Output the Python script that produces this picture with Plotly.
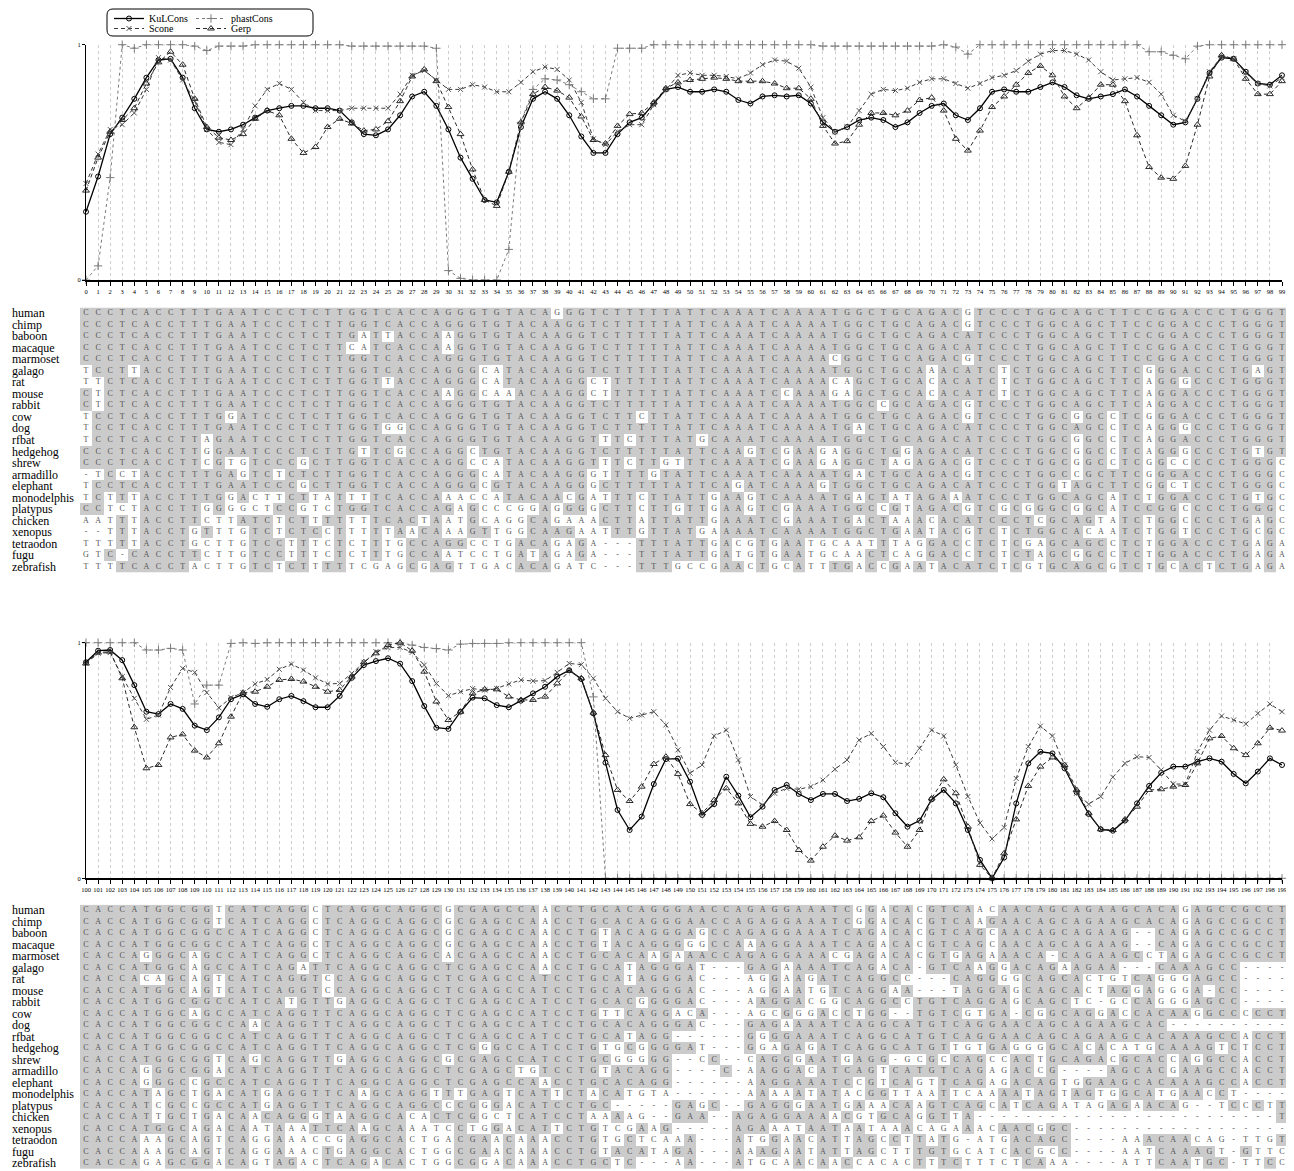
import plotly.graph_objects as go
from collections import Counter

W, H = 1294, 1171
OFF = 8                      # default page (body) margin of the html page
FW, FH = W - OFF, H - OFF    # figure size so that it ends at the window edge
SERIF = "Liberation Serif, DejaVu Serif, serif"

# ---------------- data ----------------
species = ["human", "chimp", "baboon", "macaque", "marmoset", "galago", "rat", "mouse",
           "rabbit", "cow", "dog", "rfbat", "hedgehog", "shrew", "armadillo", "elephant",
           "monodelphis", "platypus", "chicken", "xenopus", "tetraodon", "fugu", "zebrafish"]

positions_1 = list(range(0, 100))
positions_2 = list(range(100, 200))
tick_labels_1 = [str(p) for p in positions_1]
tick_labels_2 = [str(p) for p in positions_2]

seqs_1 = [
    "CCCTCACCTTTGAATCCCTCTTGGTCACCAGGG" "TGTACAGGGTCTTTTTATTCAAATCAAAATGGCT" "GCAGACGTCCCTGGCAGCTTCCGGACCCTGGGT",
    "CCCTCACCTTTGAATCCCTCTTGGTCACCAGGG" "TGTACAAGGTCTTTTTATTCAAATCAAAATGGCT" "GCAGACGTCCCTGGCAGCTTCCGGACCCTGGGT",
    "CCCTCACCTTTGAATCCCTCTTGATTACCAAGG" "TGTACAAGGTCTTTTTATTCAAATCAAAATGGCT" "GCAGACATCCCTGGCAGCTTCCGGACCCTGGGT",
    "CCCTCACCTTTGAATCCCTCTTCATCACCAAGG" "TGTACAAGGTCTTTTTATTCAAATCAAAATGGCT" "GCAGACATCCCTGGCAGCTTCCGGACCCTGGGT",
    "CCCTCACCTTTGAATCCCTCTTGGTCACCAGGG" "TGTACAAGGTCTTTTTATTCAAATCAAAACGGCT" "GCAGACGTCCCTGGCAGCTTCCGGACCCTGGGT",
    "TCCTTACCTTTGAATCCCTCTTGGTCACCAGGG" "CATACAAGGTCTTTTTATTCAAATCAAAATGGCT" "GCAAACATCTCTGGCAGCTTCGGGACCCTGAGT",
    "TTCTCACCTTTGAATCCCTCTTGGTTACCAGGG" "CATACAAGGCTTTTTTATTCAAATCAAAACAGCT" "GCACACATCTCTGGCAGCTTCAGGGCCCTGGGT",
    "CTCTCACCTTTGAATCCCTCTTGGTCACCAAGG" "CAAACAAGGCTTTTTTATTCAAATCCAAAGAGCT" "GCACACATCTCTGGCAGCTTCAGGACCCTGGGT",
    "CTCTCACCTTTGAATCCCTCTTGGTCACCAGGG" "TGTACAAGGTCTTTTTATTCAAATCAAAATGGCC" "GCAGACGTCCCTGGCAGCTTCAGGACCCTGGGT",
    "TCCTCACCTTTGGATCCCTCTTGGTCACCAGGG" "TGTACAAGGTCTTCTTATTCAAATCAAAATGGCT" "GCAGACGTCCCTGGCGGCCTCGGGACCCTGGGT",
    "TCCTCACCTTTGAATCCCTCTTGGTGGCCAGGG" "TGTACAAGGTCTTTTTATTCAAATCAAAATGACT" "GCAGACATCCCTGGCAGCCTCAGGGCCCTGGGT",
    "TCCTCACCTTAGAATCCCTCTTGGTCACCAGGG" "TGTACAAGGTTTCTTTATGCAAATCAAAATGGCT" "GCAGACATCCCTGGCGGCCTCAGGACCCTGGGT",
    "CCCTCACCTTGGAATCCCTCTTGTTCGCCAGGC" "TGTACAAGGTCTTTTTATTCAAGTCGAAGAGGCT" "GGAGACATCCCTGGCGGCCTCAGGGCCCTGTGT",
    "CCCTCACCTTCGTGTCCCGCTTGGTCACCAGGC" "CATACAAGGTTTCTTGTTTCAAATCGAAGAGGCT" "AGAGACGTCCCTGGCGGCCTCGGCCCCCTGGGC",
    "-TCCTACCTTTGAGTCTCTCTTGGTCACCAGGG" "CATACAAGGGTTTTGTATTCAAATCAAAATGACT" "GCAGACGTCCCTGGCCGCTTCGGGACCCTGGGC",
    "TCCTCACCTTTGAATCCCGCTTGGTCACCAGGG" "CGTACAAGGGCTTTTTATTCAGATCAAAGTGGCT" "GCAGACATCCCTGGTAGCTTCGGCTCCCTGGGC",
    "TCTTTACCTTTGGACTTCTTATTTTCACCAAAC" "CATACAACGATTTCTTATTGAAGTCAAAATGACT" "ATAGAAATCCCTGGCAGCATCTGGACCCTGTGC",
    "CCTCTACCTTGGGGCTCCGTCTGGTCACCAGAG" "CCCGGAGGGGCTTCTTGTTGAAGTCGAAATGGCC" "GTAGACGTCGCGGGCGGCATCCGGCCCCTGGGC",
    "AATTTACCTTCTTATCTCTTTTTTTCACTAATG" "CAGGCAGAAACTTATTATTGAAATCGAAATGACT" "AAACACATCCCTCGCAGTATCTGGCCCCTGAGC",
    "--TTTACCTGTTTGTCTCTCCTTTTTAACAAAG" "TTGGCAAGAATTTGTTATGAAAATCAAAATGGCT" "GAATACGTCTCTGGCACAATCTGGTCCCTGCGC",
    "TTTTTACCTGCTTGTCCTTTCTCTTTGCCAGGC" "CTGACAGAGA---TTTATTGACGTGAATGCAATT" "TAGGACCTCTCGAGCAGCCTCTGGACCCTGAGA",
    "GTC-CACCTTCTTGTCCTTTCTCTTTGCCAATC" "CTGATAGAGA---TTTATTGATGTGAATGCAACT" "CAGGACCTCTCTAGCGGCCTCTGGACCCTGAGA",
    "TTTTCACCTACTTGTCTCTTTTTCGAGCGAGTT" "GACACAGATC---TTTGCCGAACTGCATTTGACC" "GAATACATCTCGTGCAGCGTCTGCACTCTGAGA",
]

seqs_2 = [
    "CACCATGGCGGTCATCAGGCTCAGGCAGGCGCG" "AGCCAACCTGCACAGGGAACCAGAGGAAATCGGA" "CACGTCAACAACAGCAGAAGCACAGAGCCGCCT",
    "CACCATGGCGGTCATCAGGCTCAGGCAGGCGCG" "AGCCAACCTGCACAGGGAACCAGAGGAAATCGGA" "CACGTCAAGAACAGCAGAAGCACAGAGCCGCCT",
    "CACCATGGCGGCCATCAGGCTCAGGCAGGCGCG" "AGCCAACCTGTACAGGGAGCCAGAGGAAATCAGA" "CACGTCAGCAACAGCAGAAG--CAGAGCCGCCT",
    "CACCATGGCGGCCATCAGGCTCAGGCAGGCGCG" "AGCCAACCTGTACAGGGGGCCAAAGGAAATCAGA" "CACGTCAGCAACAGCAGAAG--CAGAGCCGCCT",
    "CACCAGGGCAGCCATCAGGCTCAGGCAGGCACG" "AGCCAACCTGCACAAGAAACCAGAGGAAACGAGA" "CACGTGAGAAACA-CAGAAGCCTAGAGCCGCCT",
    "CACCATGGCAGCCATCAGATTCAGGCAGGCTCG" "AGCCAACCTGCATAGGGAT---GAGAAAATCAGA" "CA-GTCAAGGACAGAAGAA---CAAAGCC----",
    "CACCACAGCAGTCATCAGGTCCAGGCAGGCTCG" "AGCCATCCTGCATAGGGAC---AGGAAGATCAGG" "CC---CAGGGGCAGCACTGTCAGGGAGCC----",
    "CACCATGGCAGTCATCAGGTCCAGGCAGGCTCG" "AGCCATCCTGCACAGGGAC---AGGAATGTCAGG" "AA---TAGGAGCAGCACTAGGAGGGA-CC----",
    "CACCATGGCGGCCATCATGTTGAGGCAGGCTCG" "AGCCATCCTGCACGGGGAC---AAGGACGGCAGG" "CCTGTCAGGAGCAGCTC-GCCAGGGAGCC----",
    "CACCATGGCAGCCATCAGGTTCAGGCAGGCTCG" "AGCCATCCTGTTCAGGACA---AGCGGGACCTGG" "--TGTCGTGA-CGGCAGGACCACAAGGCCCCCT",
    "CACCATGGCGGCCAACAGGTTCAGGCAGGCTCG" "AGCCATCCTGCACAGGGAC---GAGAAAATCAGG" "CATGTCAGGAACAGCAGAAGCAC----------",
    "CACCATGGCGGCCATCAGGTTCAGGCAGGCTCG" "AGCCATCCTGCATAGG------GGGGAAATCAGG" "CATGTCAGGAACAGCAGAAGCACAAAGCCACCT",
    "CACCATGGCGGCCATCAGGTTCAGGCAGGCTCG" "GGCCATCCTGTGCGGGGAT---GGAGAGATCAGG" "CATGTTGTGAGGGGCACACATGCAAAGTCTCCT",
    "CACCATGGCGGTCAGCAGGTTGAGGCAGGCGCG" "AGCCATCCTGCGGGGG--CC--CAGGGAATGAGG" "-GCGCCAGCCACTGCAGACGCACCAGGCCACCT",
    "CACCAGGGCGGACATCAGGTTCAGGCAGGCTCG" "AGCTGTCCTGTACAGG----C-AAGGACATCAGT" "CATGTCAGAGACCG----AGCACGAAGCCACCT",
    "CACCAGGGCCGCCATCAGGTTCAGGCAGGCTCG" "AGCCAACCTGCACAGG------AAGGAAATCCGT" "CAGTTCAGAGACAGTGGAAGCACAAAGCCACCT",
    "CACCATAGCTGACATGAGGTTCAAGCAGGTTTG" "AGTCATTCTACATGTA------AAAAATATACGG" "TTAATTCAAAATAGTAGTGGCATGAACCT----",
    "CACCATCGCCGCCATGAGGTTCAGGCAGGCCCG" "GGACATCCTGC-----GAGC--GAGGGAATGAAA" "CAAGTCAGCATCAGATAGAGAACAG--TCCCTT",
    "CACCATTGCTGACAACAGGGTAAGGCACACTCG" "GCTCATCCTAAAAG--GAA--AGAGGAAAACGTG" "CAGGTTA-------------------------T",
    "CACCATGGCAGACAATAAATTCAAGCAAATCCT" "GGACATTCTGTCGAAG-----AGAAATAATAATA" "AACAGAAACAACGGC------------------",
    "CACCAAAGCAGTCAGGAAACCGAGGCACTGACG" "AACAAACCTGTGCTCAAA---ATGGAACATTAGC" "CTTATG-ATGACAGC----AAACAACAG-TTGT",
    "CACCAAAGCAGTCAGGAAACTGAGGCACTGGCG" "AACAAACCTGTACATAGA---AAAGAATATTAGC" "TTTGTGCATCACGCC----AATCAAAGT-GTTC",
    "CACCAGAGCGGACAGTAGACTCAGACACTGGCG" "GACAAACCTGCTC---AA---ATGCAACAACCAC" "ACTTTCTTTCTCAAA----ATTCAATGC-TTCC",
]

kulcons_1 = [0.29, 0.44, 0.62, 0.69, 0.77, 0.86, 0.935, 0.94, 0.86, 0.73,
             0.64, 0.63, 0.64, 0.66, 0.69, 0.72, 0.73, 0.74, 0.74, 0.73,
             0.73, 0.72, 0.67, 0.62, 0.615, 0.64, 0.70, 0.78, 0.80, 0.74,
             0.64, 0.52, 0.43, 0.34, 0.33, 0.46, 0.65, 0.77, 0.80, 0.77,
             0.70, 0.61, 0.54, 0.54, 0.62, 0.67, 0.69, 0.75, 0.81, 0.82,
             0.80, 0.80, 0.81, 0.80, 0.765, 0.75, 0.78, 0.785, 0.78, 0.785,
             0.75, 0.67, 0.63, 0.65, 0.68, 0.69, 0.68, 0.65, 0.67, 0.71,
             0.74, 0.75, 0.70, 0.68, 0.73, 0.80, 0.81, 0.80, 0.80, 0.82,
             0.84, 0.82, 0.785, 0.77, 0.78, 0.79, 0.81, 0.78, 0.74, 0.70,
             0.66, 0.67, 0.77, 0.88, 0.945, 0.94, 0.885, 0.835, 0.83, 0.87]
scone_1 = [0.41, 0.535, 0.64, 0.66, 0.71, 0.81, 0.945, 0.935, 0.85, 0.76,
           0.64, 0.585, 0.575, 0.64, 0.74, 0.81, 0.835, 0.81, 0.755, 0.72,
           0.72, 0.72, 0.73, 0.73, 0.73, 0.73, 0.79, 0.87, 0.89, 0.85,
           0.81, 0.81, 0.83, 0.82, 0.80, 0.80, 0.84, 0.885, 0.905, 0.895,
           0.85, 0.755, 0.60, 0.575, 0.63, 0.66, 0.66, 0.745, 0.81, 0.87,
           0.88, 0.87, 0.87, 0.865, 0.855, 0.88, 0.915, 0.935, 0.93, 0.90,
           0.82, 0.69, 0.63, 0.65, 0.72, 0.79, 0.81, 0.805, 0.815, 0.84,
           0.855, 0.855, 0.835, 0.815, 0.835, 0.86, 0.87, 0.89, 0.93, 0.96,
           0.975, 0.975, 0.96, 0.935, 0.885, 0.85, 0.855, 0.86, 0.84, 0.79,
           0.70, 0.675, 0.77, 0.885, 0.95, 0.94, 0.88, 0.835, 0.825, 0.86]
phastcons_1 = [0.0, 0.06, 0.435, 1.0, 0.985, 1.0, 1.0, 1.0, 1.0, 0.994,
               0.975, 0.994, 0.994, 0.994, 1.0, 1.0, 1.0, 1.0, 1.0, 1.0,
               1.0, 1.0, 0.994, 0.994, 0.994, 0.994, 0.994, 0.994, 0.994, 0.985,
               0.04, 0.007, 0.0, 0.0, 0.0, 0.13, 0.67, 0.81, 0.855, 0.85,
               0.83, 0.80, 0.77, 0.77, 0.985, 0.985, 0.985, 1.0, 1.0, 1.0,
               1.0, 1.0, 1.0, 1.0, 1.0, 1.0, 1.0, 1.0, 1.0, 1.0,
               1.0, 0.994, 0.994, 0.994, 0.994, 0.994, 0.994, 0.994, 0.994, 0.994,
               0.994, 1.0, 0.99, 0.96, 1.0, 1.0, 1.0, 1.0, 1.0, 1.0,
               1.0, 1.0, 1.0, 1.0, 1.0, 1.0, 1.0, 1.0, 0.97, 0.97,
               0.955, 0.94, 0.994, 1.0, 1.0, 1.0, 1.0, 1.0, 1.0, 1.0]
gerp_1 = [0.38, 0.52, 0.63, 0.68, 0.73, 0.835, 0.925, 0.97, 0.915, 0.77,
          0.65, 0.605, 0.595, 0.62, 0.685, 0.72, 0.70, 0.60, 0.54, 0.565,
          0.65, 0.685, 0.665, 0.635, 0.64, 0.675, 0.76, 0.865, 0.895, 0.845,
          0.735, 0.62, 0.47, 0.34, 0.315, 0.46, 0.67, 0.79, 0.82, 0.805,
          0.775, 0.695, 0.595, 0.58, 0.655, 0.705, 0.71, 0.755, 0.815, 0.84,
          0.85, 0.855, 0.86, 0.855, 0.845, 0.845, 0.845, 0.835, 0.815, 0.815,
          0.77, 0.655, 0.58, 0.59, 0.66, 0.71, 0.71, 0.70, 0.72, 0.765,
          0.775, 0.72, 0.60, 0.55, 0.635, 0.735, 0.78, 0.83, 0.88, 0.91,
          0.87, 0.78, 0.73, 0.775, 0.83, 0.83, 0.76, 0.615, 0.48, 0.435,
          0.43, 0.485, 0.66, 0.865, 0.955, 0.94, 0.855, 0.79, 0.79, 0.845]

kulcons_2 = [0.917, 0.966, 0.969, 0.926, 0.820, 0.707, 0.697, 0.740, 0.719, 0.648,
             0.629, 0.683, 0.760, 0.781, 0.740, 0.728, 0.760, 0.774, 0.752, 0.726,
             0.726, 0.774, 0.851, 0.905, 0.922, 0.934, 0.911, 0.837, 0.731, 0.639,
             0.634, 0.707, 0.767, 0.764, 0.735, 0.726, 0.754, 0.785, 0.813, 0.856,
             0.883, 0.846, 0.700, 0.491, 0.290, 0.205, 0.262, 0.400, 0.506, 0.508,
             0.410, 0.269, 0.315, 0.431, 0.351, 0.259, 0.304, 0.375, 0.396, 0.358,
             0.332, 0.358, 0.358, 0.328, 0.337, 0.361, 0.344, 0.276, 0.219, 0.245,
             0.335, 0.375, 0.318, 0.205, 0.078, 0.0, 0.088, 0.318, 0.488, 0.537,
             0.530, 0.467, 0.365, 0.273, 0.208, 0.202, 0.245, 0.318, 0.392, 0.448,
             0.474, 0.474, 0.495, 0.509, 0.495, 0.443, 0.403, 0.453, 0.509, 0.481]
scone_2 = [0.912, 0.955, 0.958, 0.856, 0.764, 0.675, 0.693, 0.810, 0.891, 0.874,
           0.788, 0.724, 0.767, 0.788, 0.825, 0.844, 0.887, 0.909, 0.884, 0.851,
           0.825, 0.827, 0.870, 0.917, 0.962, 0.979, 0.980, 0.959, 0.905, 0.827,
           0.775, 0.792, 0.805, 0.799, 0.806, 0.825, 0.842, 0.837, 0.839, 0.874,
           0.912, 0.907, 0.849, 0.764, 0.707, 0.679, 0.693, 0.707, 0.651, 0.545,
           0.446, 0.481, 0.604, 0.629, 0.502, 0.347, 0.311, 0.361, 0.382, 0.378,
           0.389, 0.417, 0.463, 0.502, 0.587, 0.615, 0.559, 0.492, 0.484, 0.552,
           0.629, 0.604, 0.481, 0.347, 0.235, 0.167, 0.216, 0.424, 0.559, 0.646,
           0.604, 0.481, 0.361, 0.315, 0.347, 0.429, 0.488, 0.516, 0.513, 0.460,
           0.400, 0.400, 0.537, 0.629, 0.689, 0.672, 0.655, 0.700, 0.740, 0.707]
phastcons_2 = [1.0, 1.0, 1.0, 1.0, 1.0, 0.969, 0.969, 0.976, 0.969, 0.740,
               0.820, 0.820, 0.997, 1.0, 0.997, 1.0, 1.0, 1.0, 1.0, 1.0,
               1.0, 1.0, 1.0, 1.0, 1.0, 1.0, 1.0, 0.99, 0.98, 0.975,
               0.969, 0.994, 0.997, 0.997, 0.997, 1.0, 1.0, 1.0, 1.0, 1.0,
               1.0, 1.0, 0.77, 0.0, 0.0, 0.0, 0.0, 0.0, 0.0, 0.0,
               0.0, 0.0, 0.0, 0.0, 0.0, 0.0, 0.0, 0.0, 0.0, 0.0,
               0.0, 0.0, 0.0, 0.0, 0.0, 0.0, 0.0, 0.0, 0.0, 0.0,
               0.0, 0.0, 0.0, 0.0, 0.0, 0.0, 0.0, 0.0, 0.0, 0.0,
               0.0, 0.0, 0.0, 0.0, 0.0, 0.0, 0.0, 0.0, 0.0, 0.0,
               0.0, 0.0, 0.0, 0.0, 0.0, 0.0, 0.0, 0.0, 0.0, 0.0]
gerp_2 = [0.912, 0.958, 0.962, 0.849, 0.641, 0.467, 0.481, 0.598, 0.611, 0.542,
          0.513, 0.573, 0.686, 0.788, 0.792, 0.813, 0.842, 0.846, 0.835, 0.813,
          0.792, 0.799, 0.856, 0.917, 0.955, 0.990, 1.0, 0.966, 0.877, 0.750,
          0.672, 0.707, 0.785, 0.802, 0.802, 0.771, 0.757, 0.757, 0.771, 0.827,
          0.880, 0.849, 0.703, 0.523, 0.375, 0.328, 0.389, 0.485, 0.516, 0.443,
          0.315, 0.276, 0.332, 0.382, 0.318, 0.231, 0.219, 0.243, 0.205, 0.120,
          0.075, 0.134, 0.181, 0.160, 0.174, 0.243, 0.266, 0.194, 0.134, 0.205,
          0.339, 0.420, 0.361, 0.219, 0.057, 0.0, 0.106, 0.250, 0.392, 0.474,
          0.513, 0.481, 0.375, 0.276, 0.208, 0.205, 0.250, 0.304, 0.375, 0.378,
          0.389, 0.396, 0.488, 0.594, 0.604, 0.552, 0.523, 0.573, 0.639, 0.627]

for s in seqs_1 + seqs_2:
    assert len(s) == 100, (len(s), s)


# ---------------- helpers (page pixel -> paper fraction) ----------------
def X(px):
    return (px - OFF) / FW


def Y(px):
    return 1 - (px - OFF) / FH


def shade_mask(seqs):
    cons = []
    for j in range(len(seqs[0])):
        c = Counter(s[j] for s in seqs if s[j] != "-")
        cons.append(c.most_common(1)[0][0] if c else None)
    return [[1 if s[j] == cons[j] else 0 for j in range(len(s))] for s in seqs]


fig = go.Figure()

# one legend box per entry so the 2x2 legend grid can be laid out tightly
series_style = [
    ("KuLCons", dict(color="#000000", width=1.3, dash="solid"),
     dict(symbol="circle-open", size=5, color="#000000", line=dict(width=1)), "legend"),
    ("Scone", dict(color="#3a3a3a", width=1, dash="4px,3px"),
     dict(symbol="x-thin-open", size=5, color="#555555", line=dict(width=1)), "legend3"),
    ("phastCons", dict(color="#7a7a7a", width=1, dash="dot"),
     dict(symbol="cross-thin-open", size=6, color="#7a7a7a", line=dict(width=1)), "legend2"),
    ("Gerp", dict(color="#2a2a2a", width=1, dash="4px,3px"),
     dict(symbol="triangle-up-open", size=6, color="#2a2a2a", line=dict(width=1)), "legend4"),
]

panel_series = [
    (positions_1, [kulcons_1, scone_1, phastcons_1, gerp_1], "x", "y", True),
    (positions_2, [kulcons_2, scone_2, phastcons_2, gerp_2], "x2", "y2", False),
]

for xs, vals_list, xa, ya, show in panel_series:
    for (name, lstyle, mstyle, leg), vals in zip(series_style, vals_list):
        fig.add_trace(go.Scatter(
            x=xs, y=vals, mode="lines+markers", name=name,
            line=lstyle, marker=mstyle, xaxis=xa, yaxis=ya,
            showlegend=show, legend=leg, cliponaxis=False, hoverinfo="skip"))

# alignments
align_panels = [(positions_1, seqs_1, "x3", "y3"), (positions_2, seqs_2, "x4", "y4")]
for xs, seqs, xa, ya in align_panels:
    fig.add_trace(go.Heatmap(
        x=xs, y=list(range(len(species))), z=shade_mask(seqs),
        zmin=0, zmax=1, colorscale=[[0, "#ffffff"], [1, "#cbcbcb"]],
        showscale=False, xaxis=xa, yaxis=ya, hoverinfo="skip"))
    tx, ty, tt = [], [], []
    for r, s in enumerate(seqs):
        for j, ch in enumerate(s):
            tx.append(xs[j])
            ty.append(r)
            tt.append(ch)
    fig.add_trace(go.Scatter(
        x=tx, y=ty, text=tt, mode="text", xaxis=xa, yaxis=ya,
        textfont=dict(size=8, color="#555555", family=SERIF),
        showlegend=False, hoverinfo="skip"))

# ---------------- layout (positions in page pixels) ----------------
x_left, x_right = 86, 1282
cell = (x_right - x_left) / 99.0

top_plot = (44.7, 280.0)
bot_plot = (642.7, 878.3)
top_align = (307.5, 572.5)
bot_align = (904.7, 1169.0)


def line_xaxis(rng, ticks, labels):
    return dict(range=rng, domain=[X(x_left), X(x_right)], tickmode="array",
                tickvals=ticks, ticktext=labels, tickangle=0,
                tickfont=dict(size=6.5, family=SERIF, color="#000"),
                ticks="outside", ticklen=4, tickwidth=1, tickcolor="#000",
                showline=True, linewidth=2, linecolor="#000", mirror=False,
                showgrid=True, gridcolor="#cdcdcd", gridwidth=1, griddash="dot",
                zeroline=False, fixedrange=True, automargin=False)


def tick_overlay(over, anchor, rng, ticks):
    return dict(overlaying=over, anchor=anchor, range=rng,
                domain=[X(x_left), X(x_right)], tickmode="array", tickvals=ticks,
                ticks="inside", ticklen=4, tickwidth=1, tickcolor="#000",
                showticklabels=False, showgrid=False, showline=False,
                zeroline=False, side="bottom", automargin=False)


def line_yaxis(px_range):
    return dict(range=[0, 1], domain=[Y(px_range[1]), Y(px_range[0])],
                tickmode="array", tickvals=[0, 1], ticktext=["0", "1"],
                tickfont=dict(size=6.5, family=SERIF, color="#000"),
                ticks="outside", ticklen=3, tickcolor="#000",
                showline=True, linewidth=1, linecolor="#000",
                showgrid=True, gridcolor="#8a8a8a", gridwidth=1,
                zeroline=False, fixedrange=True, automargin=False)


def align_xaxis(rng):
    return dict(range=rng, domain=[X(x_left - cell / 2), X(x_right + cell / 2)],
                visible=False, fixedrange=True)


def align_yaxis(px_range):
    return dict(range=[len(species) - 0.5, -0.5],
                domain=[Y(px_range[1]), Y(px_range[0])],
                visible=False, fixedrange=True)


annotations = []
for ya in ("y3", "y4"):
    for r, name in enumerate(species):
        annotations.append(dict(
            x=X(10), xref="paper", xanchor="left", y=r, yref=ya, yanchor="middle",
            text=name, showarrow=False,
            font=dict(size=12, family=SERIF, color="#000")))


def rounded_rect(x0, y0, x1, y1, r):
    return (f"M {X(x0 + r)},{Y(y0)} L {X(x1 - r)},{Y(y0)} "
            f"Q {X(x1)},{Y(y0)} {X(x1)},{Y(y0 + r)} L {X(x1)},{Y(y1 - r)} "
            f"Q {X(x1)},{Y(y1)} {X(x1 - r)},{Y(y1)} L {X(x0 + r)},{Y(y1)} "
            f"Q {X(x0)},{Y(y1)} {X(x0)},{Y(y1 - r)} L {X(x0)},{Y(y0 + r)} "
            f"Q {X(x0)},{Y(y0)} {X(x0 + r)},{Y(y0)} Z")


def legend_box(x_px, row_center_px):
    return dict(x=X(x_px), y=Y(row_center_px - 13), xanchor="left", yanchor="top",
                bgcolor="rgba(0,0,0,0)", borderwidth=0, tracegroupgap=0,
                itemwidth=30, font=dict(size=10, family=SERIF, color="#000"))


fig.update_layout(
    width=FW, height=FH, margin=dict(l=0, r=0, t=0, b=0, autoexpand=False),
    paper_bgcolor="white", plot_bgcolor="white",
    font=dict(family=SERIF, color="#000"),
    xaxis=line_xaxis([0, 99], positions_1, tick_labels_1),
    yaxis=line_yaxis(top_plot),
    xaxis2=dict(line_xaxis([100, 199], positions_2, tick_labels_2), anchor="y2"),
    yaxis2=dict(line_yaxis(bot_plot), anchor="x2"),
    xaxis3=dict(align_xaxis([-0.5, 99.5]), anchor="y3"),
    yaxis3=dict(align_yaxis(top_align), anchor="x3"),
    xaxis4=dict(align_xaxis([99.5, 199.5]), anchor="y4"),
    yaxis4=dict(align_yaxis(bot_align), anchor="x4"),
    xaxis5=tick_overlay("x", "y", [0, 99], positions_1),
    xaxis6=tick_overlay("x2", "y2", [100, 199], positions_2),
    legend=legend_box(109, 17),
    legend3=legend_box(109, 27),
    legend2=legend_box(191, 17),
    legend4=legend_box(191, 27),
    annotations=annotations,
    shapes=[dict(type="path", xref="paper", yref="paper",
                 path=rounded_rect(107, 9, 313, 36, 6),
                 line=dict(color="#000", width=1), layer="below")],
)

fig.write_html("out.html")
